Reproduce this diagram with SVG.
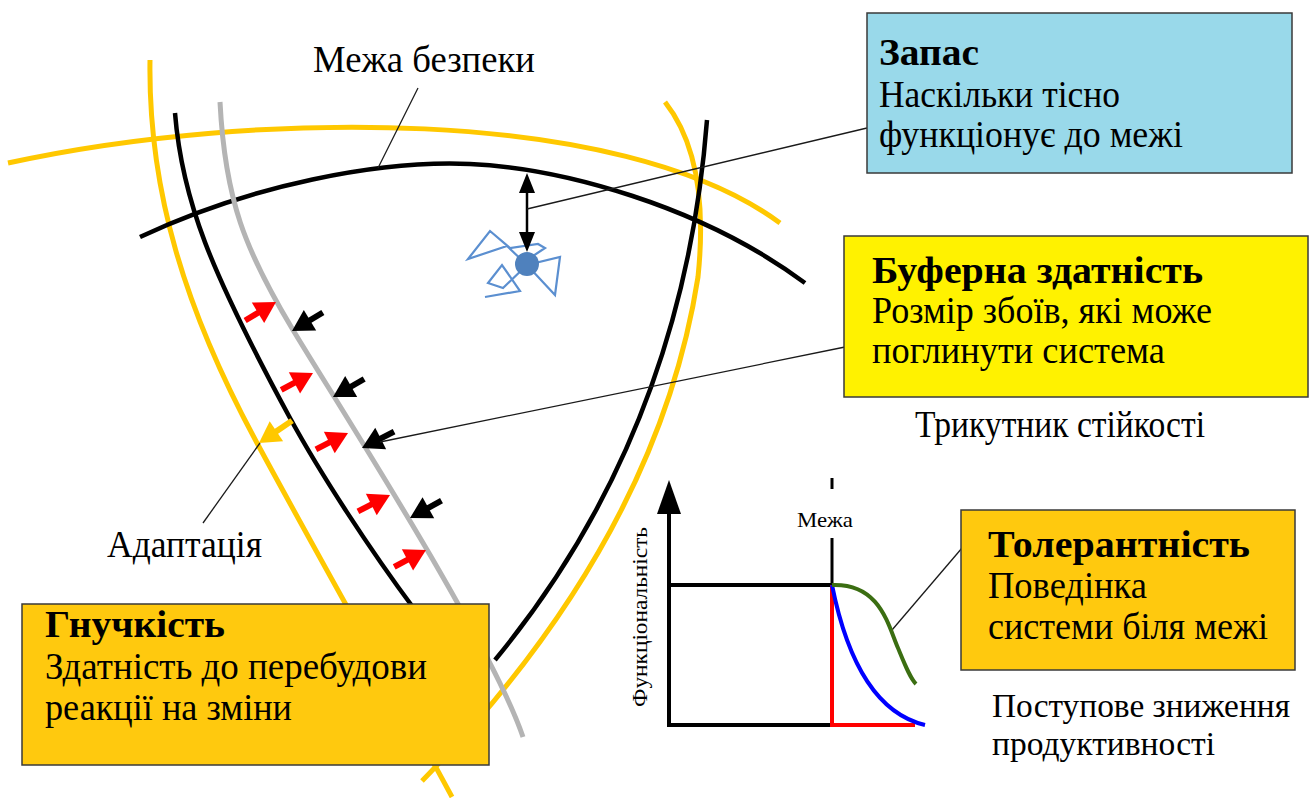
<svg xmlns="http://www.w3.org/2000/svg" xmlns:xlink="http://www.w3.org/1999/xlink" width="1310" height="798" viewBox="0 0 1310 798">
<style>
text{font-family:"Liberation Serif","Times New Roman","DejaVu Serif",serif;fill:#000}
.t{font-size:37px;font-weight:bold}
.b{font-size:37px}
.c{font-size:34px}
.s{font-size:22px}
.yl{fill:none;stroke:#FFC800;stroke-width:5}
.bl{fill:none;stroke:#000;stroke-width:4.5}
.gl{fill:none;stroke:#B4B4B4;stroke-width:5}
.ld{fill:none;stroke:#1a1a1a;stroke-width:1.3}
.box{stroke:#3a3a3a;stroke-width:1.5}
.ax{fill:none;stroke:#000;stroke-width:4}
</style>
<defs>
<g id="arR"><rect x="-36" y="-3" width="18" height="6" fill="#FF0000"/><polygon points="-21,-12 0,0 -21,12" fill="#FF0000"/></g>
<g id="arK"><rect x="-36" y="-3" width="18" height="6" fill="#000"/><polygon points="-21,-12 0,0 -21,12" fill="#000"/></g>
<g id="arY"><rect x="-40" y="-3" width="22" height="6" fill="#FFC800"/><polygon points="-21,-12 0,0 -21,12" fill="#FFC800"/></g>
</defs>
<rect width="1310" height="798" fill="#fff"/>

<g id="curves">
<path class="yl" d="M8,163 C250,110 620,105 780,223"/>
<path class="yl" d="M150,60 C148,190 185,310 257,443 S400,700 452,797"/>
<path class="yl" d="M665,102 C695,140 706,200 698,277 C682,380 632,565 422,781"/>
<path class="bl" d="M140,237 C250,185 380,160 470,164 S700,205 805,283"/>
<path class="bl" d="M175,113 C182,200 210,270 290,418 C320,473 370,550 415,610"/>
<path class="bl" d="M707,120 C697,250 660,460 495,660"/>
<path class="gl" d="M220,102 C225,200 245,250 293,330 C340,408 490,640 523,737"/>
</g>

<g id="band-arrows">
<use xlink:href="#arR" transform="translate(276,302) rotate(-31)"/>
<use xlink:href="#arR" transform="translate(313,373) rotate(-28)"/>
<use xlink:href="#arR" transform="translate(348,433) rotate(-27)"/>
<use xlink:href="#arR" transform="translate(390,495) rotate(-27)"/>
<use xlink:href="#arR" transform="translate(426,550) rotate(-28)"/>
<use xlink:href="#arR" transform="translate(462,606) rotate(-28)"/>
<use xlink:href="#arK" transform="translate(292,331) rotate(149)"/>
<use xlink:href="#arK" transform="translate(333,397) rotate(150)"/>
<use xlink:href="#arK" transform="translate(362,448) rotate(153)"/>
<use xlink:href="#arK" transform="translate(410,518) rotate(151)"/>
<use xlink:href="#arY" transform="translate(259,443) rotate(146)"/>
</g>

<g id="margin-marker">
<polyline points="485,297 520,291 502,265 488,283 503,288 527,265 560,257 555,295 527,265 507,246 468,259 490,231 510,248 538,244 545,248 530,258" fill="none" stroke="#5B8FD0" stroke-width="2.2" stroke-linejoin="miter"/>
<circle cx="527" cy="264" r="12" fill="#4F81BD"/>
<line x1="527" y1="190" x2="527" y2="235" stroke="#000" stroke-width="2.5"/>
<polygon points="527,173 519,193 535,193" fill="#000"/>
<polygon points="527,252 519,232 535,232" fill="#000"/>
</g>

<g id="leaders">
<line class="ld" x1="418" y1="88" x2="378" y2="168"/>
<line class="ld" x1="527" y1="209" x2="867" y2="128"/>
<line class="ld" x1="380" y1="442" x2="845" y2="347"/>
<line class="ld" x1="203" y1="523" x2="260" y2="443"/>
<line class="ld" x1="892" y1="630" x2="962" y2="548"/>
</g>

<g id="chart">
<line class="ax" x1="669" y1="727" x2="669" y2="510"/>
<polygon points="669,480 657,514 681,514" fill="#000"/>
<line class="ax" x1="667" y1="725" x2="832" y2="725"/>
<line class="ax" x1="667" y1="585" x2="832" y2="585"/>
<line x1="832" y1="538" x2="832" y2="585" stroke="#000" stroke-width="3"/>
<line x1="832" y1="478" x2="832" y2="489" stroke="#000" stroke-width="3"/>
<path d="M832,585 L832,725 L915,725" fill="none" stroke="#FF0000" stroke-width="4"/>
<path d="M832,585 C845,650 870,712 925,725" fill="none" stroke="#0000FF" stroke-width="4"/>
<path d="M832,585 C880,583 888,625 898,648 C905,665 910,678 916,684" fill="none" stroke="#3B6E12" stroke-width="4"/>
<text class="s" x="797" y="527" textLength="56" lengthAdjust="spacingAndGlyphs">Межа</text>
<text class="s" transform="translate(647,707) rotate(-90)" textLength="180" lengthAdjust="spacingAndGlyphs">Функціональність</text>
</g>

<g id="labels">
<text class="b" x="313" y="72" textLength="222" lengthAdjust="spacingAndGlyphs">Межа безпеки</text>
<text class="b" x="107" y="557" textLength="155" lengthAdjust="spacingAndGlyphs">Адаптація</text>
<text class="b" x="915" y="437" textLength="290" lengthAdjust="spacingAndGlyphs">Трикутник стійкості</text>
<text class="c" x="992" y="717" textLength="298" lengthAdjust="spacingAndGlyphs">Поступове зниження</text>
<text class="c" x="992" y="755" textLength="223" lengthAdjust="spacingAndGlyphs">продуктивності</text>
</g>

<g id="node-zapas">
<rect class="box" x="867" y="13" width="425" height="160" fill="#99D9EA"/>
<text class="t" x="879" y="65" textLength="100" lengthAdjust="spacingAndGlyphs">Запас</text>
<text class="b" x="879" y="107" textLength="241" lengthAdjust="spacingAndGlyphs">Наскільки тісно</text>
<text class="b" x="879" y="147" textLength="304" lengthAdjust="spacingAndGlyphs">функціонує до межі</text>
</g>

<g id="node-bufer">
<rect class="box" x="844" y="236" width="464" height="161" fill="#FFF200"/>
<text class="t" x="872" y="283" textLength="331" lengthAdjust="spacingAndGlyphs">Буферна здатність</text>
<text class="b" x="872" y="323" textLength="340" lengthAdjust="spacingAndGlyphs">Розмір збоїв, які може</text>
<text class="b" x="872" y="363" textLength="293" lengthAdjust="spacingAndGlyphs">поглинути система</text>
</g>

<g id="node-tolerant">
<rect class="box" x="961" y="510" width="334" height="160" fill="#FFC90E"/>
<text class="t" x="988" y="557" textLength="262" lengthAdjust="spacingAndGlyphs">Толерантність</text>
<text class="b" x="988" y="598" textLength="159" lengthAdjust="spacingAndGlyphs">Поведінка</text>
<text class="b" x="988" y="639" textLength="280" lengthAdjust="spacingAndGlyphs">системи біля межі</text>
</g>

<g id="node-gnuch">
<rect class="box" x="22" y="604" width="467" height="161" fill="#FFC90E"/>
<text class="t" x="45" y="637" textLength="180" lengthAdjust="spacingAndGlyphs">Гнучкість</text>
<text class="b" x="45" y="679" textLength="382" lengthAdjust="spacingAndGlyphs">Здатність до перебудови</text>
<text class="b" x="45" y="720" textLength="247" lengthAdjust="spacingAndGlyphs">реакції на зміни</text>
</g>
</svg>
